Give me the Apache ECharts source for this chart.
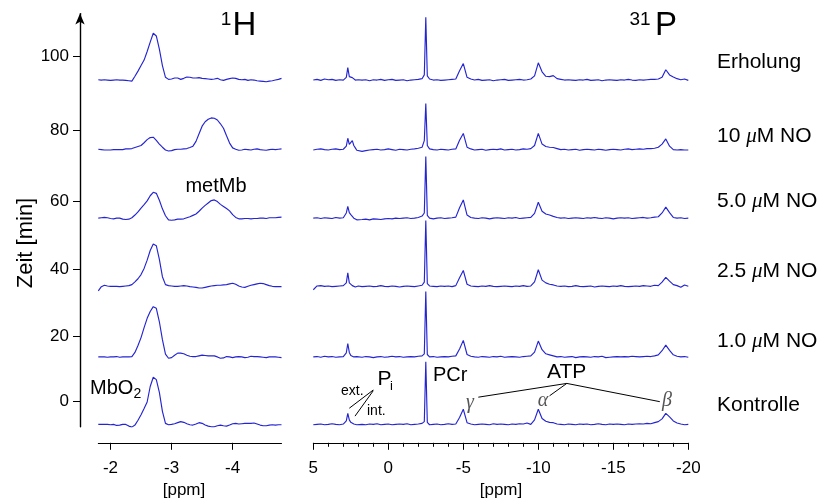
<!DOCTYPE html>
<html><head><meta charset="utf-8">
<script src="https://cdn.jsdelivr.net/npm/echarts@6/dist/echarts.min.js"></script>
<style>html,body{margin:0;padding:0;background:#fff}#c{width:826px;height:504px}</style>
</head><body><div id="c"></div>
<script>
// ---------- DATA ----------
// 1H chemical shift grid [ppm]
const hX = [
 -1.8,-1.85,-1.9,-1.95,-2.0,-2.05,-2.1,-2.15,-2.2,-2.25,
 -2.3,-2.35,-2.4,-2.45,-2.5,-2.55,-2.6,-2.65,-2.7,-2.75,
 -2.8,-2.85,-2.9,-2.95,-3.0,-3.05,-3.1,-3.15,-3.2,-3.25,
 -3.3,-3.35,-3.4,-3.45,-3.5,-3.55,-3.6,-3.65,-3.7,-3.75,
 -3.8,-3.85,-3.9,-3.95,-4.0,-4.05,-4.1,-4.15,-4.2,-4.25,
 -4.3,-4.35,-4.4,-4.45,-4.5,-4.55,-4.6,-4.65,-4.7,-4.75,
 -4.8];
// 31P chemical shift grid [ppm]
const pX = [
 5,4.75,4.5,4.25,4,3.75,3.5,3.25,3,2.9,
 2.8,2.7,2.6,2.5,2.4,2.3,2.2,2.1,2,1.75,
 1.5,1.25,1,0.75,0.5,0.25,0,-0.25,-0.5,-0.75,
 -1,-1.25,-1.5,-1.75,-2,-2.25,-2.4,-2.5,-2.6,-2.75,
 -3,-3.25,-3.5,-3.75,-4,-4.25,-4.5,-4.75,-5,-5.25,
 -5.5,-5.75,-6,-6.25,-6.5,-6.75,-7,-7.25,-7.5,-7.75,
 -8,-8.25,-8.5,-8.75,-9,-9.25,-9.5,-9.75,-10,-10.25,
 -10.5,-10.75,-11,-11.25,-11.5,-11.75,-12,-12.25,-12.5,-12.75,
 -13,-13.25,-13.5,-13.75,-14,-14.25,-14.5,-14.75,-15,-15.25,
 -15.5,-15.75,-16,-16.25,-16.5,-16.75,-17,-17.25,-17.5,-17.75,
 -18,-18.25,-18.5,-18.75,-19,-19.25,-19.5,-19.75,-20];

// sample labels (bottom to top) and vertical stacking offsets [min-axis units]
const sampleLabels = ['Kontrolle','1.0 μM NO','2.5 μM NO','5.0 μM NO','10 μM NO','Erholung'];
const offsets = [-6.8, 12.8, 33.3, 53.1, 73.0, 93.2];

// 1H spectra (intensity relative to baseline)
const K1H = [0.0,0.0,0.0,0.0,-0.1,0.0,-0.3,-0.2,0.0,0.0,
 -0.5,-0.8,-0.2,1.2,2.8,4.6,6.5,11.0,13.7,13.0,
 9.3,3.8,0.3,-0.1,0.0,0.2,0.5,0.8,0.6,0.2,
 -0.1,-0.2,0.1,0.5,0.3,-0.2,-0.5,-0.7,-0.7,-0.4,
 -0.2,-0.4,-0.5,-0.2,0.2,0.3,0.1,0.2,0.3,0.3,
 0.3,0.4,0.1,-0.2,-0.4,-0.4,-0.2,-0.1,-0.2,-0.1,
 -0.1];
const O1H = [0.0,0.0,0.0,-0.1,0.0,0.0,0.1,-0.1,0.0,0.0,
 0.0,0.1,1.3,3.3,5.6,8.5,11.2,13.2,14.6,14.1,
 10.2,5.0,0.8,-0.4,-0.2,0.5,1.1,1.1,0.9,0.5,
 0.2,0.1,0.1,0.3,0.5,0.4,0.3,0.3,0.3,0.0,
 -0.4,-0.3,0.1,0.0,-0.2,0.0,0.1,0.0,-0.2,-0.1,
 0.2,0.1,0.1,0.0,-0.1,-0.2,0.0,0.0,0.0,-0.1,
 -0.2];
const Q1H = [-1.3,-0.1,0.3,0.1,0.0,0.0,0.0,-0.1,0.0,0.1,
 0.2,0.5,1.3,2.2,3.4,5.2,7.6,10.4,12.3,11.8,
 7.8,2.8,0.5,0.2,0.1,0.0,0.0,0.1,0.2,0.1,
 -0.1,-0.2,-0.3,-0.5,-0.5,-0.3,-0.1,0.1,0.2,0.3,
 0.3,0.4,0.5,0.7,0.9,0.6,0.1,-0.2,-0.3,0.0,
 0.3,0.5,0.7,0.9,0.8,0.5,0.2,0.0,-0.1,-0.1,
 -0.1];
const F1H = [0.0,0.1,0.2,0.1,-0.1,-0.2,0.0,0.0,-0.3,-0.4,
 -0.3,0.1,0.9,1.8,2.9,3.9,5.0,6.5,7.5,7.2,
 5.2,2.7,0.7,-0.5,-0.6,-0.5,-0.3,-0.3,-0.2,0.1,
 0.4,0.8,1.2,2.0,2.9,3.7,4.4,5.1,5.3,4.8,
 4.0,3.4,2.8,2.1,1.0,0.2,-0.2,-0.2,-0.1,-0.1,
 -0.2,-0.1,-0.1,0.0,0.0,-0.1,0.1,0.1,0.1,0.2,
 0.3];
const T1H = [0.1,0.0,-0.1,-0.1,-0.1,0.0,0.0,0.0,0.0,0.2,
 0.2,0.3,0.6,0.9,1.2,2.0,2.9,3.5,3.6,2.7,
 1.6,0.7,-0.1,-0.4,-0.3,0.0,0.1,0.1,0.2,0.3,
 0.6,1.0,2.4,4.6,6.8,8.1,8.8,9.2,9.1,8.6,
 7.5,6.2,4.0,1.9,0.5,0.1,-0.2,-0.1,0.1,0.0,
 -0.1,0.1,0.2,0.0,-0.1,-0.2,0.0,0.1,0.0,0.1,
 0.2];
const E1H = [0.1,0.0,0.1,0.0,-0.1,0.0,0.1,0.0,0.0,-0.1,
 -0.2,-0.3,1.1,2.6,4.2,5.8,8.3,11.0,13.6,12.8,
 9.0,4.2,0.8,0.2,0.3,0.6,0.6,0.2,0.5,0.9,
 0.8,0.6,0.6,0.7,0.5,0.4,0.3,0.2,0.3,0.5,
 0.1,-0.1,0.2,0.4,0.6,0.5,0.2,0.1,0.2,-0.1,
 0.1,0.0,-0.2,-0.3,-0.4,-0.5,-0.3,-0.2,0.0,0.2,
 0.5];

// 31P spectra (intensity relative to baseline)
const K31 = [-0.1,0.0,0.1,-0.1,0.0,0.2,0.0,-0.1,0.1,0.5,
 1.0,3.2,1.3,0.6,0.3,0.1,0.0,-0.1,0.1,0.0,
 -0.1,0.1,0.0,0.2,-0.1,0.0,0.1,-0.1,0.0,0.1,
 0.0,0.2,-0.1,0.0,0.1,0.3,0.8,18.2,0.6,-0.1,
 0.0,0.1,-0.1,0.0,0.2,0.0,0.1,2.0,4.4,0.5,
 0.1,-0.1,0.0,0.1,0.0,-0.1,0.2,0.0,0.1,0.0,
 -0.1,0.1,0.0,0.2,0.1,0.4,0.0,1.3,4.4,1.7,
 0.9,0.6,0.5,0.1,0.0,-0.1,0.1,0.0,-0.1,0.1,
 0.0,0.1,-0.1,0.0,0.2,0.0,-0.1,0.1,0.0,0.1,
 0.0,-0.1,0.1,0.0,0.1,0.2,0.1,0.3,0.2,0.5,
 0.8,1.6,3.2,2.2,1.0,0.4,0.1,-0.1,0.0];
const O31 = [0.0,0.1,-0.1,0.2,0.0,0.1,-0.1,0.0,0.1,0.3,
 1.2,3.9,1.3,0.4,0.1,0.0,-0.1,0.1,0.0,-0.1,
 0.1,0.0,-0.2,0.0,0.1,-0.1,0.0,0.2,0.0,0.1,
 -0.1,0.0,0.1,0.0,0.2,0.3,0.9,19.0,0.7,0.0,
 0.1,-0.1,0.0,0.1,0.0,0.2,0.3,2.3,4.8,0.7,
 0.2,0.0,-0.1,0.1,0.0,-0.1,0.1,0.0,0.2,-0.1,
 0.0,0.1,0.0,-0.1,0.1,0.2,0.3,1.4,4.6,2.1,
 0.9,0.6,0.3,0.0,0.1,-0.1,0.0,0.1,-0.2,0.0,
 0.1,0.0,-0.1,0.1,0.0,0.2,-0.2,-0.1,0.0,0.1,
 0.0,0.1,0.0,0.2,0.1,0.0,0.1,0.2,0.1,0.3,
 0.6,1.8,3.4,1.9,0.6,0.2,0.0,0.1,-0.1];
const Q31 = [-1.0,0.1,0.2,0.0,0.1,-0.1,0.0,0.1,0.2,0.4,
 1.0,3.9,1.0,0.5,0.2,-0.1,-0.2,0.0,0.1,-0.1,
 0.0,0.1,-0.1,0.0,0.2,0.0,-0.1,0.1,0.0,-0.2,
 0.0,0.1,0.0,-0.1,0.1,0.3,1.2,19.1,0.8,0.1,
 0.0,-0.1,0.1,0.0,0.1,-0.1,0.2,2.5,4.6,0.6,
 0.1,0.0,-0.1,0.1,0.0,0.2,0.0,-0.1,0.0,0.1,
 0.0,-0.1,0.1,0.0,0.2,0.0,0.1,1.3,4.8,1.8,
 1.0,0.6,0.4,0.1,0.0,0.1,-0.1,0.0,0.2,0.0,
 -0.1,0.0,0.1,-0.2,0.0,0.1,0.0,-0.1,0.1,0.0,
 0.2,0.0,-0.1,0.0,0.1,0.0,0.2,0.1,0.0,0.3,
 0.2,1.2,2.6,1.5,0.5,0.2,-0.3,0.4,0.0];
const F31 = [0.0,0.1,-0.1,0.1,0.0,-0.1,0.2,0.0,0.1,0.6,
 1.5,3.4,1.6,1.0,0.5,0.0,-0.4,-0.5,-0.3,-0.4,
 -0.3,-0.5,-0.2,-0.3,-0.4,-0.2,-0.1,-0.2,0.0,-0.1,
 0.0,0.1,-0.1,0.0,0.2,0.6,1.5,17.9,0.8,0.0,
 -0.2,0.0,0.1,-0.1,0.0,0.1,0.3,3.0,5.3,0.9,
 0.2,0.0,-0.1,0.1,0.0,-0.2,0.0,0.1,0.0,-0.1,
 0.1,0.0,0.2,-0.1,0.0,0.1,0.2,1.4,4.6,2.0,
 1.2,0.9,0.5,0.2,0.0,0.1,-0.1,0.0,0.1,0.0,
 -0.1,0.1,0.0,0.2,0.0,-0.1,0.1,0.0,-0.2,0.0,
 0.1,0.0,0.1,-0.1,0.0,0.1,0.2,0.0,0.1,0.3,
 0.4,1.5,3.2,1.6,0.2,0.0,0.1,-0.1,0.0];
const T31 = [-0.1,0.1,0.2,0.0,-0.1,0.1,0.2,0.0,0.1,0.3,
 1.0,3.3,1.5,2.0,2.6,1.2,0.5,-0.2,-0.4,-0.5,
 -0.3,-0.1,0.0,0.1,-0.1,0.0,0.2,0.0,-0.2,0.1,
 0.0,-0.1,0.1,0.2,0.4,0.7,2.6,13.4,1.2,0.2,
 0.0,-0.1,0.1,0.0,-0.1,0.1,0.2,2.7,4.7,0.7,
 0.2,-0.1,0.0,0.1,-0.2,0.0,0.1,0.0,0.2,-0.1,
 0.0,0.1,-0.1,0.0,0.2,0.1,0.3,1.2,4.7,1.6,
 0.9,0.7,0.6,0.3,0.0,0.1,-0.1,0.0,0.1,-0.2,
 0.0,0.1,0.0,-0.1,0.1,0.0,-0.2,0.0,0.1,0.0,
 -0.1,0.1,0.2,0.0,0.1,0.2,0.1,0.3,0.3,0.4,
 0.7,1.6,3.1,1.0,0.0,-0.1,0.0,-0.1,-0.1];
const E31 = [0.0,0.2,-0.1,0.3,0.1,0.2,-0.1,0.1,0.0,0.2,
 0.8,3.6,1.0,0.5,0.7,0.2,0.0,-0.1,0.1,0.0,
 0.1,-0.2,0.1,0.0,0.2,-0.1,0.1,0.2,-0.1,0.0,
 0.1,-0.2,0.0,0.1,0.2,0.4,1.5,18.2,1.2,0.3,
 0.0,0.1,-0.1,0.0,0.1,0.2,0.3,2.7,4.8,0.8,
 0.3,0.0,0.2,-0.1,0.0,0.1,-0.2,0.0,0.1,0.2,
 -0.1,0.0,0.1,0.2,0.0,0.1,0.3,1.2,5.0,2.4,
 1.1,1.0,1.3,0.4,0.2,0.0,0.1,0.0,-0.1,0.1,
 0.0,0.2,-0.1,0.0,0.1,-0.2,0.0,0.1,0.0,-0.1,
 0.1,0.0,0.2,0.0,-0.1,0.1,0.0,0.1,0.2,0.2,
 0.3,0.8,3.0,1.5,0.9,0.4,0.1,0.3,-0.1];

// y-axis tick labels and where they sit on the (linear) plotting scale
const yTickLabels = ['0','20','40','60','80','100'];
const yTickPos = [0, 18.68, 38.25, 58.09, 78.5, 100];
// x-axis tick labels
const hMajor = [-2, -3, -4];
const pInterval = 5;

// annotation leader lines in 31P data coordinates [ppm, axis units]
const leaders = [
  [[1.0, 3.2], [2.6, -2.1]],      // Pi -> ext.
  [[1.0, 3.0], [2.22, -4.4]],     // Pi -> int.
  [[-11.9, 5.1], [-6.0, 1.1]],    // ATP -> gamma
  [[-11.9, 5.1], [-10.75, 1.5]],  // ATP -> alpha
  [[-11.9, 5.1], [-18.1, -0.2]]   // ATP -> beta
];

// ---------- CHART ----------
const FONT = '"Liberation Sans", Arial, sans-serif';
const SERIF = '"Liberation Serif", "DejaVu Serif", serif';
const BLUE = '#2424d2';
const h1 = [K1H, O1H, Q1H, F1H, T1H, E1H];
const p31 = [K31, O31, Q31, F31, T31, E31];

const chart = echarts.init(document.getElementById('c'), null, {renderer: 'canvas'});

const series = [];
const warn = [];
for (let s = 0; s < 6; s++) {
  if (h1[s].length !== hX.length) warn.push('h' + s + ':' + h1[s].length);
  if (p31[s].length !== pX.length) warn.push('p' + s + ':' + p31[s].length);
  series.push({
    type: 'line', xAxisIndex: 0, yAxisIndex: 0, symbol: 'none', showSymbol: false,
    silent: true, animation: false, lineStyle: {color: BLUE, width: 1.15},
    data: hX.map((x, i) => [x, offsets[s] + h1[s][i]])
  });
  series.push({
    type: 'line', xAxisIndex: 1, yAxisIndex: 1, symbol: 'none', showSymbol: false,
    silent: true, animation: false, lineStyle: {color: BLUE, width: 1.15},
    data: pX.map((x, i) => [x, offsets[s] + p31[s][i]])
  });
}
series.push({
  type: 'line', xAxisIndex: 1, yAxisIndex: 1, data: [], silent: true, animation: false,
  markLine: {
    silent: true, animation: false, symbol: ['none', 'none'],
    label: {show: false}, emphasis: {disabled: true},
    lineStyle: {color: '#000', width: 1, type: 'solid'},
    data: leaders.map(l => [{coord: l[0]}, {coord: l[1]}])
  }
});

const hMinor = [];
for (let k = 18; k <= 48; k++) hMinor.push(-k / 10);

const axisBlack = {color: '#000', width: 1};
const yFmt = v => {
  let b = 0;
  for (let i = 0; i < yTickPos.length; i++) if (Math.abs(yTickPos[i] - v) < Math.abs(yTickPos[b] - v)) b = i;
  return yTickLabels[b];
};

function T(x, y, text, size, extra) {
  const st = Object.assign({text: text, fontSize: size, fontFamily: FONT, fill: '#000',
    align: 'left', verticalAlign: 'middle', textAlign: 'left', textVerticalAlign: 'middle'}, extra || {});
  if (extra && extra.align) st.textAlign = extra.align;
  return {type: 'text', x: x, y: y, silent: true, style: st};
}

const labelY = [405, 341.5, 271.5, 201.5, 136, 62.5];
const graphics = [];
sampleLabels.forEach((lab, i) => {
  const parts = lab.split('μ');
  const txt = parts.length === 2 ? '{n|' + parts[0] + '}{m|μ}{n|' + parts[1] + '}' : '{n|' + lab + '}';
  graphics.push({type: 'text', x: 717, y: labelY[i], silent: true, style: {
    text: txt, align: 'left', verticalAlign: 'middle', textAlign: 'left', textVerticalAlign: 'middle',
    rich: {
      n: {fontSize: 21, fontFamily: FONT, fill: '#000'},
      m: {fontSize: 21, fontFamily: SERIF, fontStyle: 'italic', fill: '#000'}
    }
  }});
});
// titles
graphics.push(T(226, 20, '1', 19, {align: 'center'}));
graphics.push(T(244.5, 25.5, 'H', 33, {align: 'center'}));
graphics.push(T(640, 20, '31', 19, {align: 'center'}));
graphics.push(T(666, 25.5, 'P', 33, {align: 'center'}));
// axis names
graphics.push({type: 'text', x: 26, y: 243, rotation: Math.PI / 2, silent: true, style: {
  text: 'Zeit [min]', fontSize: 22, fontFamily: FONT, fill: '#000',
  align: 'center', verticalAlign: 'middle', textAlign: 'center', textVerticalAlign: 'middle'}});
graphics.push(T(184, 490, '[ppm]', 17, {align: 'center'}));
graphics.push(T(501, 490, '[ppm]', 17, {align: 'center'}));
// peak annotations
graphics.push(T(216, 186, 'metMb', 20, {align: 'center'}));
graphics.push(T(90, 388, 'MbO', 20));
graphics.push(T(133.5, 394, '2', 14));
graphics.push(T(377.5, 379, 'P', 21));
graphics.push(T(390, 386, 'i', 13));
graphics.push(T(341, 391.5, 'ext.', 14));
graphics.push(T(367, 411, 'int.', 14));
graphics.push(T(433, 375.5, 'PCr', 20));
graphics.push(T(547, 372.5, 'ATP', 21));
graphics.push(T(470, 403, 'γ', 20, {align: 'center', fontFamily: SERIF, fontStyle: 'italic', fill: '#555'}));
graphics.push(T(543, 401, 'α', 20, {align: 'center', fontFamily: SERIF, fontStyle: 'italic', fill: '#555'}));
graphics.push(T(667, 401, 'β', 20, {align: 'center', fontFamily: SERIF, fontStyle: 'italic', fill: '#555'}));
if (warn.length) graphics.push(T(300, 480, 'LEN ' + warn.join(' '), 14, {fill: 'red'}));

chart.setOption({
  animation: false,
  backgroundColor: '#fff',
  grid: [
    {left: 98.3, top: 13.6, width: 183.2, height: 413.2, outerBoundsMode: 'none', containLabel: false},
    {left: 313.3, top: 13.6, width: 375, height: 413.2, outerBoundsMode: 'none', containLabel: false}
  ],
  xAxis: [
    {gridIndex: 0, type: 'value', min: -4.8, max: -1.8, inverse: true, offset: 16,
      splitLine: {show: false},
      axisLine: {show: true, onZero: false, lineStyle: axisBlack},
      axisTick: {show: true, customValues: hMajor, length: 7, lineStyle: axisBlack},
      axisLabel: {show: true, customValues: hMajor, formatter: v => String(v), fontSize: 17,
        fontFamily: FONT, color: '#000', margin: 17}},
    {gridIndex: 1, type: 'value', min: -20, max: 5, interval: pInterval, inverse: true, offset: 16,
      splitLine: {show: false},
      axisLine: {show: true, onZero: false, lineStyle: axisBlack},
      axisTick: {show: true, length: 7, lineStyle: axisBlack},
      minorTick: {show: true, splitNumber: 5, length: 4, lineStyle: axisBlack},
      axisLabel: {show: true, fontSize: 17, fontFamily: FONT, color: '#000', margin: 17,
        formatter: v => String(v)}},
    {gridIndex: 0, type: 'value', min: -4.8, max: -1.8, inverse: true, offset: 16,
      splitLine: {show: false},
      axisLine: {show: false, onZero: false},
      axisTick: {show: true, customValues: hMinor, length: 4, lineStyle: axisBlack},
      axisLabel: {show: false}}
  ],
  yAxis: [
    {gridIndex: 0, type: 'value', min: -7.5, max: 112.5, offset: 18.3, position: 'left',
      splitLine: {show: false},
      axisLine: {show: true, onZero: false, symbol: ['none', 'arrow'], symbolSize: [7, 11],
        lineStyle: {color: '#000', width: 1.4}},
      axisTick: {show: true, customValues: yTickPos, length: 7, lineStyle: axisBlack},
      axisLabel: {show: true, customValues: yTickPos, formatter: yFmt, fontSize: 17,
        fontFamily: FONT, color: '#000', margin: 11}},
    {gridIndex: 1, type: 'value', min: -7.5, max: 112.5, show: false}
  ],
  graphic: graphics,
  series: series
});
</script></body></html>
